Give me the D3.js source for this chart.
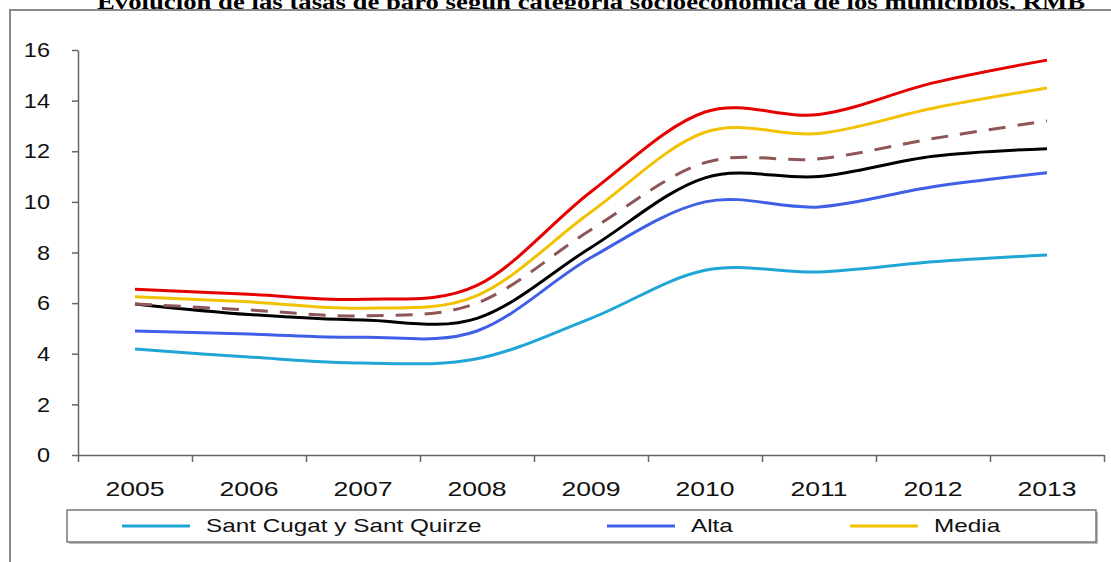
<!DOCTYPE html>
<html lang="es">
<head>
<meta charset="UTF-8" />
<script src="https://d3js.org/d3.v7.min.js"></script>
<title>Tasas de paro RMB</title>
<style>
  body { margin: 0; background: #fff; }
  svg { display: block; }
</style>
</head>
<body>
<svg width="1111" height="562"></svg>
<script>
const years = ["2005", "2006", "2007", "2008", "2009", "2010", "2011", "2012", "2013"];
const yTicks = [0, 2, 4, 6, 8, 10, 12, 14, 16];
const title = "Evolución de las tasas de paro según categoría socioeconómica de los municipios, RMB";

// series (only the first three names are visible in the legend)
const santCugat = [4.19, 3.87, 3.63, 3.8, 5.4, 7.3, 7.23, 7.63, 7.9];
const alta = [4.9, 4.78, 4.65, 4.9, 7.8, 10.0, 9.8, 10.6, 11.15];
const media = [6.25, 6.05, 5.8, 6.3, 9.6, 12.75, 12.7, 13.7, 14.5];
const serieRoja = [6.55, 6.35, 6.15, 6.7, 10.4, 13.55, 13.45, 14.7, 15.6];
const serieNegra = [5.97, 5.55, 5.33, 5.4, 8.2, 10.95, 11.0, 11.8, 12.1];
const serieDiscontinua = [5.97, 5.73, 5.5, 6.0, 8.9, 11.55, 11.7, 12.5, 13.2];

const series = [
  { name: "Sant Cugat y Sant Quirze", values: santCugat, color: "#1fa6d6", dash: null, legend: true },
  { name: "Alta", values: alta, color: "#3f5fe6", dash: null, legend: true },
  { name: "Media", values: media, color: "#f2c200", dash: null, legend: true },
  { name: "serieRoja", values: serieRoja, color: "#e60000", dash: null, legend: false },
  { name: "serieDiscontinua", values: serieDiscontinua, color: "#8e5656", dash: "17,12", legend: false },
  { name: "serieNegra", values: serieNegra, color: "#000000", dash: null, legend: false }
];
// draw order: back to front
const drawOrder = ["Sant Cugat y Sant Quirze", "Alta", "serieNegra", "serieDiscontinua", "Media", "serieRoja"];

const svg = d3.select("svg");
const plotLeft = 78, plotRight = 1104, plotTop = 50, plotBottom = 455;

// title, partly hidden by the chart frame
svg.append("text")
  .attr("x", 591).attr("y", 9)
  .attr("text-anchor", "middle")
  .attr("font-family", "Liberation Serif, Times New Roman, serif")
  .attr("font-weight", "bold")
  .attr("font-size", 20)
  .attr("textLength", 988)
  .attr("lengthAdjust", "spacingAndGlyphs")
  .text(title);

svg.append("rect")
  .attr("x", 10).attr("y", 10)
  .attr("width", 1120).attr("height", 600)
  .attr("fill", "#fff")
  .attr("stroke", "#8a8a8a")
  .attr("stroke-width", 2);

const x = d3.scaleBand().domain(years).range([plotLeft, plotRight]).padding(0);
const xEdge = d3.scaleLinear().domain([0, years.length]).range([plotLeft, plotRight]);
const y = d3.scaleLinear().domain([0, 16]).range([plotBottom, plotTop]);

// y axis
const gy = svg.append("g")
  .attr("transform", `translate(${plotLeft},0)`)
  .call(d3.axisLeft(y).tickValues(yTicks).tickSize(6).tickPadding(19).tickSizeOuter(0));
gy.selectAll("text")
  .attr("font-family", "Liberation Sans, Arial, sans-serif")
  .attr("font-size", 21)
  .attr("fill", "#111")
  .attr("transform", "scale(1.12,1)");

// x axis: ticks at category edges, labels centred
svg.append("g")
  .attr("transform", `translate(0,${plotBottom})`)
  .call(d3.axisBottom(xEdge).tickValues(d3.range(0, years.length + 1)).tickSize(7).tickFormat("").tickSizeOuter(0));
const gx = svg.append("g")
  .attr("transform", `translate(0,${plotBottom})`)
  .call(d3.axisBottom(x).tickSize(0).tickPadding(27));
gx.select(".domain").remove();
gx.selectAll("text")
  .attr("font-family", "Liberation Sans, Arial, sans-serif")
  .attr("font-size", 20)
  .attr("fill", "#111")
  .attr("transform", "scale(1.33,1)");

svg.selectAll(".domain, .tick line").attr("stroke", "#666").attr("stroke-width", 1.5);

// lines, smoothed like the spreadsheet (uniform Catmull-Rom)
const line = d3.line()
  .x((d, i) => x(years[i]) + x.bandwidth() / 2)
  .y(d => y(d))
  .curve(d3.curveCardinal.tension(0));

const ordered = drawOrder.map(n => series.find(s => s.name === n));
svg.append("g").selectAll("path")
  .data(ordered)
  .join("path")
  .attr("d", d => line(d.values))
  .attr("fill", "none")
  .attr("stroke", d => d.color)
  .attr("stroke-width", 3)
  .attr("stroke-dasharray", d => d.dash)
  .attr("stroke-linecap", "butt");

// legend
const lg = svg.append("g");
lg.append("rect")
  .attr("x", 69).attr("y", 512).attr("width", 1029).attr("height", 32)
  .attr("fill", "#bbb");
lg.append("rect")
  .attr("x", 67).attr("y", 510).attr("width", 1029).attr("height", 32)
  .attr("fill", "#fff").attr("stroke", "#777").attr("stroke-width", 1.5);

const legendX = [122, 607, 850];
const items = lg.selectAll("g.item")
  .data(series.filter(s => s.legend))
  .join("g")
  .attr("class", "item")
  .attr("transform", (d, i) => `translate(${legendX[i]},526)`);
items.append("line")
  .attr("x1", 0).attr("x2", 68)
  .attr("stroke", d => d.color)
  .attr("stroke-width", 3);
items.append("text")
  .attr("x", 0).attr("y", 0)
  .attr("dy", "0.35em")
  .attr("transform", "translate(84,0) scale(1.35,1)")
  .attr("font-family", "Liberation Sans, Arial, sans-serif")
  .attr("font-size", 18)
  .attr("fill", "#111")
  .text(d => d.name);
</script>
</body>
</html>
